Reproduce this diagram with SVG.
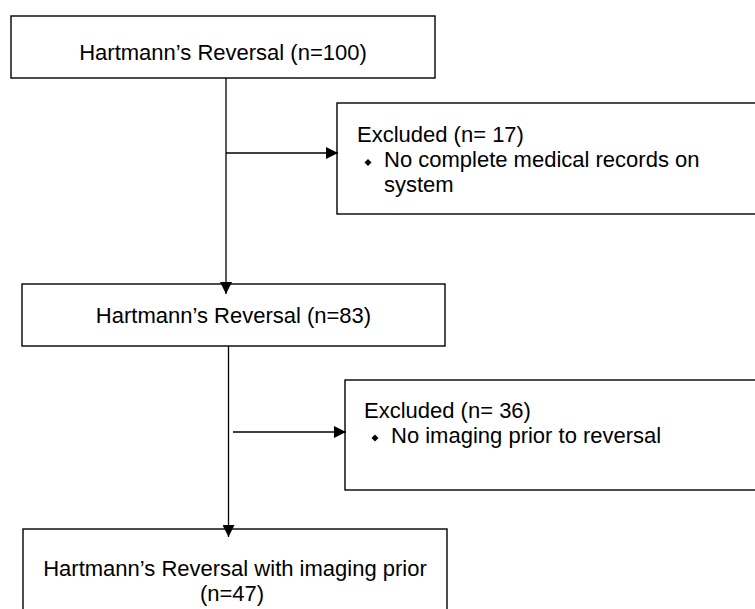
<svg xmlns="http://www.w3.org/2000/svg" width="755" height="609" viewBox="0 0 755 609">
  <defs>
    <marker id="arrow" markerWidth="12" markerHeight="12" refX="12" refY="6" orient="auto" markerUnits="userSpaceOnUse">
      <path d="M0,0 L12,6 L0,12 Z" fill="#000"/>
    </marker>
  </defs>
  <style>
    .box { fill: #fff; stroke: #000; stroke-width: 1.4; }
    .conn { fill: none; stroke: #000; stroke-width: 1.3; }
    .t { font-family: "Liberation Sans", Arial, sans-serif; font-size: 22px; fill: #000; }
    .bullet { fill: #000; }
  </style>
  <rect width="755" height="609" fill="#fff"/>

  <g id="node-hr100">
    <rect class="box" x="11" y="16" width="424" height="62"/>
    <text class="t" x="223" y="60" text-anchor="middle">Hartmann’s Reversal (n=100)</text>
  </g>

  <g id="node-excluded17">
    <rect class="box" x="337" y="103" width="430" height="111"/>
    <text class="t" x="357" y="142">Excluded (n= 17)</text>
    <path class="bullet" d="M368,159 L371.5,162.5 L368,166 L364.5,162.5 Z"/>
    <text class="t" x="384" y="167">No complete medical records on</text>
    <text class="t" x="384" y="192">system</text>
  </g>

  <g id="node-hr83">
    <rect class="box" x="22" y="284" width="423" height="62"/>
    <text class="t" x="233.5" y="323" text-anchor="middle">Hartmann’s Reversal (n=83)</text>
  </g>

  <g id="node-excluded36">
    <rect class="box" x="345" y="380" width="422" height="110"/>
    <text class="t" x="364" y="418">Excluded (n= 36)</text>
    <path class="bullet" d="M375,434.5 L378.5,438 L375,441.5 L371.5,438 Z"/>
    <text class="t" x="391" y="443">No imaging prior to reversal</text>
  </g>

  <g id="node-hr47">
    <rect class="box" x="23" y="529" width="424" height="100"/>
    <text class="t" x="235" y="576" text-anchor="middle">Hartmann’s Reversal with imaging prior</text>
    <text class="t" x="232" y="601" text-anchor="middle">(n=47)</text>
  </g>

  <g id="connectors">
    <line class="conn" x1="226" y1="78" x2="226" y2="294" marker-end="url(#arrow)"/>
    <line class="conn" x1="226" y1="153" x2="338" y2="153" marker-end="url(#arrow)"/>
    <line class="conn" x1="228.5" y1="346" x2="228.5" y2="537" marker-end="url(#arrow)"/>
    <line class="conn" x1="233" y1="432" x2="346" y2="432" marker-end="url(#arrow)"/>
  </g>
</svg>
